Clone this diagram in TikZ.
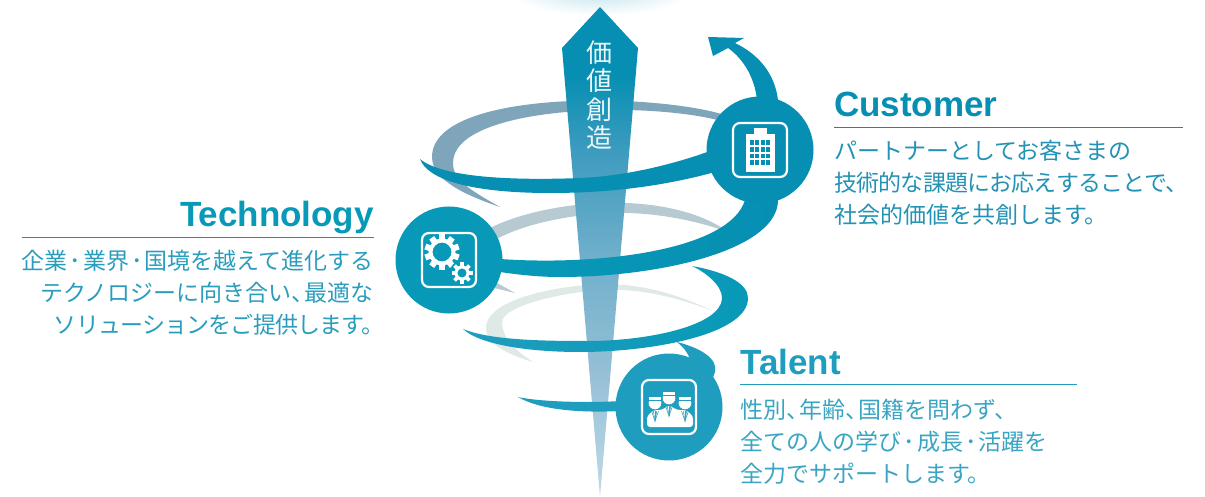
\documentclass[tikz,border=0pt]{standalone}
\usepackage{fontspec}
\newfontfamily\titlefont{Liberation Sans}
\newfontfamily\cjk{Noto Sans CJK JP}
\newfontfamily\cjktight[LetterSpace=-3.5]{Noto Sans CJK JP}
\newcommand{\mdot}{\kern2.2pt･\kern2.2pt}
\newcommand{\tenkern}{、\kern-10pt}
\definecolor{hub_dark}{HTML}{068FB2}
\definecolor{hub_mid}{HTML}{0899B8}
\definecolor{hub_light}{HTML}{1F9DBE}
\definecolor{ring_top}{HTML}{7FA5BB}
\definecolor{ring_mid}{HTML}{B7CAD2}
\definecolor{ring_low}{HTML}{DFE9E6}
\definecolor{copy_dark}{HTML}{2392B5}
\definecolor{copy_mid}{HTML}{2A9DBD}
\definecolor{copy_light}{HTML}{3AA5C3}
\definecolor{spear_a}{HTML}{068FB2}
\definecolor{spear_b}{HTML}{3F9CBF}
\definecolor{spear_c}{HTML}{6DAECA}
\definecolor{spear_d}{HTML}{94BFD6}
\definecolor{spear_e}{HTML}{C2DAE8}
\pgfdeclareverticalshading{spearfade}{100bp}{color(0bp)=(spear_e);color(25bp)=(spear_e);color(38bp)=(spear_d);color(50bp)=(spear_c);color(60bp)=(spear_b);color(68bp)=(spear_a);color(75bp)=(spear_a);color(100bp)=(spear_a)}

\begin{document}
\begin{tikzpicture}[x=1pt, y=-1pt,
    hub/.style = {shape = circle, minimum size = 107pt, inner sep = 0pt},
    frame_box/.style = {shape = rectangle, draw = white, line width = 2.2pt, rounded corners = 7pt, minimum size = 54pt, inner sep = 0pt},
    title/.style = {anchor = base west, inner sep = 0pt, font = \titlefont\bfseries\fontsize{35}{35}\selectfont},
    copy_text/.style = {inner sep = 0pt, font = \cjk\fontsize{23}{32}\selectfont}]
  \useasboundingbox (0,0) rectangle (1205,497);

  % glow above the spear
  \begin{scope}
    \clip (0,0) rectangle (1205,497);
    \shade[inner color = hub_light!30, outer color = white] (600,-12) ellipse (95 and 28);
  \end{scope}

  % rings behind the spear
  \fill[ring_top] (725,115) .. controls (650,92) and (432,90) .. (432,157)
    .. controls (432,180) and (465,195) .. (500,207)
    .. controls (470,190) and (453,180) .. (453,163)
    .. controls (453,105) and (650,100) .. (725,122) -- cycle;
  \fill[ring_mid] (490,228) .. controls (530,208) and (590,201) .. (627,203)
    .. controls (670,205) and (705,215) .. (728,232)
    .. controls (700,222) and (665,214) .. (627,213)
    .. controls (590,212) and (530,220) .. (495,240) -- cycle;
  \fill[ring_mid] (490,279) -- (515,293) -- (490,287) -- cycle;
  \fill[ring_low] (715,312) .. controls (680,295) and (650,287) .. (623,285)
    .. controls (580,281) and (486,295) .. (486,328)
    .. controls (486,345) and (510,355) .. (533,362)
    .. controls (515,350) and (502,338) .. (502,322)
    .. controls (502,305) and (575,288) .. (623,290)
    .. controls (655,292) and (685,300) .. (715,312) -- cycle;

  % spear
  \shade[shading = spearfade] (600,7) -- (638,48) -- (600,497) -- (562,48) -- cycle;
  \node[inner sep = 0pt, text = white!92!hub_dark, align = center, font = \cjk\fontsize{26}{28.3}\selectfont] at (599,95) (spear_text) {価\\値\\創\\造};

  % bands in front of the spear
  \fill[hub_dark] (420,159) .. controls (445,180) and (530,180) .. (580,178)
    .. controls (630,176) and (680,162) .. (710,151) -- (715,172)
    .. controls (650,190) and (590,193) .. (550,193)
    .. controls (490,193) and (430,185) .. (420,159) -- cycle;
  \fill[hub_dark] (708,37) -- (744,38) -- (735,43) .. controls (760,55) and (775,75) .. (778,100)
    -- (757,100) .. controls (755,80) and (745,60) .. (728,48) -- (713,56) -- cycle;
  \shade[left color = hub_mid, right color = hub_dark] (500,259) .. controls (600,266) and (730,250) .. (745,200)
    -- (778,200) .. controls (778,250) and (660,277) .. (560,277)
    .. controls (540,277) and (520,275) .. (500,272) -- cycle;
  \shade[left color = hub_light, right color = hub_mid] (692,266) .. controls (725,272) and (748,283) .. (748,298)
    .. controls (748,335) and (650,352) .. (580,352)
    .. controls (530,352) and (480,345) .. (463,329)
    .. controls (490,340) and (540,341) .. (587,341)
    .. controls (650,341) and (722,325) .. (722,298)
    .. controls (722,285) and (705,272) .. (692,266) -- cycle;
  \fill[hub_light] (677,342) .. controls (700,348) and (718,358) .. (715,372) -- (712,380) -- (690,360)
    .. controls (688,352) and (683,347) .. (677,342) -- cycle;
  \fill[hub_light] (518,397) .. controls (540,402) and (590,403) .. (620,401) -- (620,411)
    .. controls (580,413) and (540,410) .. (518,397) -- cycle;

  % hubs
  \node[hub, fill = hub_dark] at (760,150) (customer_hub) {};
  \node[hub, fill = hub_mid] at (449,260) (technology_hub) {};
  \node[hub, fill = hub_light] at (669,407) (talent_hub) {};
  \node[frame_box] at (customer_hub) (customer_frame) {};
  \node[frame_box] at (technology_hub) (technology_frame) {};
  \node[frame_box] at (talent_hub) (talent_frame) {};

  % building
  \fill[white] (746,134) rectangle (775,172);
  \fill[white] (754,128) rectangle (767,134);
  \foreach \col in {0,...,3}
    \foreach \row in {0,...,3}
      \fill[hub_dark] (750+\col*5.4,140+\row*6.8) rectangle ++(3.9,4.8);

  % gears
  \foreach \ang in {0,36,...,324}
    \fill[white, rotate around = {\ang:(442,252)}] (439,234.5) rectangle (445,242);
  \draw[white, line width = 4pt] (442,252) circle (11.5);
  \fill[hub_mid] (462,273) circle (12.5);
  \foreach \ang in {0,45,...,315}
    \fill[white, rotate around = {\ang:(462,273)}] (460.2,262.5) rectangle (463.8,268);
  \draw[white, line width = 3pt] (462,273) circle (6);

  % people
  \fill[white, rounded corners = 3pt] (647,427) -- (647,416) -- (654,410) -- (662,410) -- (669,405) -- (677,410) -- (686,410) -- (693,416) -- (693,427) -- cycle;
  \foreach \px/\py in {655/403, 685/403, 669/398} {
    \fill[white, draw = hub_light, line width = 0.6pt] (\px,\py) circle (6.8);
    \fill[white, draw = hub_light, line width = 0.6pt] (\px-6.5,\py-7) rectangle ++(13,4.5);
    \draw[copy_light, line width = 0.6pt] (\px-3.5,\py+8) -- ++(3.5,10) -- ++(3.5,-10);
    \draw[copy_light, line width = 0.6pt] (\px,\py+8) -- ++(0,10);
    \draw[copy_light, line width = 0.6pt] (\px-1.7,\py+8) -- ++(1.7,10) -- ++(1.7,-10);
  }

  % --------------------------------------------------------------------------
  \node[title, text = hub_dark] at (834,117) (customer_title) {Customer};
  \node[shape = coordinate] at (834,127) (customer_a) {};
  \node[shape = coordinate] at (1183,127) (customer_b) {};
  \draw[hub_dark, line width = 0.9pt] (customer_a) -- (customer_b);
  \node[copy_text, text = copy_dark, anchor = north west, align = left] at (834,139.5) (customer_copy) {パートナーとしてお客さまの\\{\cjktight 技術的な課題にお応えすることで、}\\社会的価値を共創します。};

  \node[title, text = hub_mid, anchor = base east] at (374,227) (technology_title) {Technology};
  \node[shape = coordinate] at (22,237) (technology_a) {};
  \node[shape = coordinate] at (374,237) (technology_b) {};
  \draw[hub_mid, line width = 0.9pt] (technology_a) -- (technology_b);
  \node[copy_text, text = copy_mid, anchor = north east, align = right] at (374,249.5) (technology_copy) {企業\mdot 業界\mdot 国境を越えて進化する\\テクノロジーに向き合い\tenkern 最適な\\{\cjktight ソリューションをご提供します。}\kern-11pt};

  \node[title, text = hub_light] at (740,374) (talent_title) {Talent};
  \node[shape = coordinate] at (740,384) (talent_a) {};
  \node[shape = coordinate] at (1077,384) (talent_b) {};
  \draw[hub_light, line width = 0.9pt] (talent_a) -- (talent_b);
  \node[copy_text, text = copy_light, anchor = north west, align = left] at (740,399) (talent_copy) {性別\tenkern 年齢\tenkern 国籍を問わず、\\全ての人の学び\mdot 成長\mdot 活躍を\\全力でサポートします。};
\end{tikzpicture}
\end{document}
